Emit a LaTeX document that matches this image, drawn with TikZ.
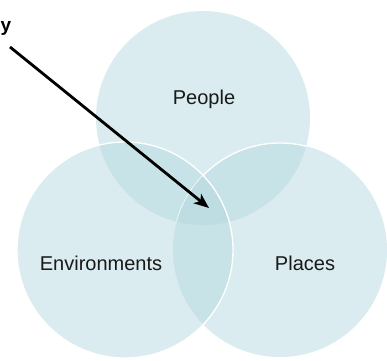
\documentclass[tikz,border=0pt]{standalone}
\usepackage{fontspec}
\setmainfont{Liberation Sans}
\usetikzlibrary{arrows.meta}
\definecolor{fillone}{RGB}{218,236,239}
\definecolor{filltwo}{RGB}{200,227,231}
\definecolor{fillthree}{RGB}{189,221,226}
\definecolor{labeltext}{RGB}{25,25,25}
\tikzset{
  lbl/.style={font=\fontsize{20}{24}\selectfont, text=labeltext, inner sep=0pt, anchor=base},
  rim/.style={draw=white, line width=1.3pt},
  pointer/.style={draw=black, line width=2.8pt, -{Stealth[length=15pt,width=12pt,inset=4pt]}}
}
\begin{document}
\begin{tikzpicture}[x=1pt,y=1pt]
\useasboundingbox (0,0) rectangle (387,360);
\def\peoplecirc{(203,242) circle (107)}
\def\envcirc{(125,110) circle (108)}
\def\placescirc{(280,110) circle (107)}
% single fills
\fill[fillone] \peoplecirc;
\fill[fillone] \envcirc;
\fill[fillone] \placescirc;
% pairwise overlaps
\begin{scope}\clip \peoplecirc; \fill[filltwo] \envcirc; \fill[filltwo] \placescirc;\end{scope}
\begin{scope}\clip \envcirc; \fill[filltwo] \placescirc;\end{scope}
% Places rim inside People
\begin{scope}\clip \peoplecirc; \draw[rim] \placescirc;\end{scope}
% triple overlap
\begin{scope}\clip \peoplecirc; \clip \envcirc; \fill[fillthree] \placescirc;\end{scope}
% Env rim
\draw[rim] \envcirc;
% labels
\node[lbl] (people) at (204,256) {People};
\node[lbl] (env) at (101,90) {Environments};
\node[lbl] (places) at (305,90) {Places};
\node[font=\bfseries\fontsize{19}{22}\selectfont, inner sep=0pt, anchor=base east] (ytail) at (11.5,329) {y};
% arrow
\coordinate (astart) at (10,313);
\coordinate (atip) at (209,152);
\draw[pointer] (astart) -- (atip);
\end{tikzpicture}
\end{document}
